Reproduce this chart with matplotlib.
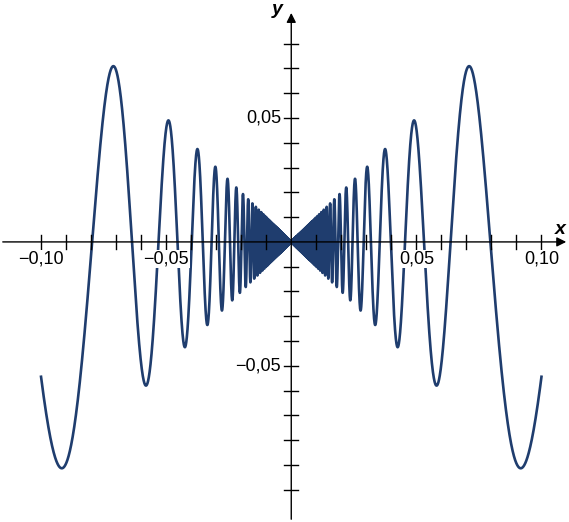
import numpy as np
import matplotlib.pyplot as plt

plt.rcParams["font.family"] = ["Liberation Sans", "DejaVu Sans"]

# curve: y = x sin(1/x) on [-0.1, 0.1]
x_min, x_max = -0.1, 0.1
x_ticks = [round(v, 2) for v in np.arange(-0.10, 0.101, 0.01) if abs(v) > 1e-9]
y_ticks = [round(v, 2) for v in np.arange(-0.10, 0.081, 0.01) if abs(v) > 1e-9]
x_labels = {-0.10: "\u22120,10", -0.05: "\u22120,05", 0.05: "0,05", 0.10: "0,10"}
y_labels = {-0.05: "\u22120,05", 0.05: "0,05"}

x = np.concatenate([np.linspace(x_min, -1e-5, 200000), np.linspace(1e-5, x_max, 200000)])
y = x * np.sin(1 / x)

fig = plt.figure(figsize=(5.69, 5.22), dpi=100)
ax = fig.add_axes([0, 0, 1, 1])
ax.set_xlim(-0.1164, 0.111)
ax.set_ylim(-0.113, 0.0976)
ax.axis("off")

color = "#1f3d6e"
ax.plot(x, y, color=color, lw=1.9)

# axes with arrows
ax.annotate("", xy=(0.111, 0), xytext=(-0.1164, 0),
            arrowprops=dict(arrowstyle="-|>", color="black", lw=1, mutation_scale=14))
ax.annotate("", xy=(0, 0.0935), xytext=(0, -0.113),
            arrowprops=dict(arrowstyle="-|>", color="black", lw=1, mutation_scale=14))
ax.text(0.1055, 0.0015, "x", fontsize=14, fontweight="bold", style="italic", ha="left", va="bottom")
ax.text(-0.0035, 0.0905, "y", fontsize=14, fontweight="bold", style="italic", ha="right", va="bottom")

tl = 0.0028
for t in x_ticks:
    ax.plot([t, t], [-tl, tl], color="black", lw=1)
    if t in x_labels:
        ax.text(t, -0.0035, x_labels[t], ha="center", va="top", fontsize=13,
                bbox=dict(facecolor="white", edgecolor="none", pad=0.5))
for t in y_ticks:
    ax.plot([-tl, tl], [t, t], color="black", lw=1)
    if t in y_labels:
        ax.text(-0.004, t, y_labels[t], ha="right", va="center", fontsize=13,
                bbox=dict(facecolor="white", edgecolor="none", pad=0.5))

fig.savefig("out.png", dpi=100)
